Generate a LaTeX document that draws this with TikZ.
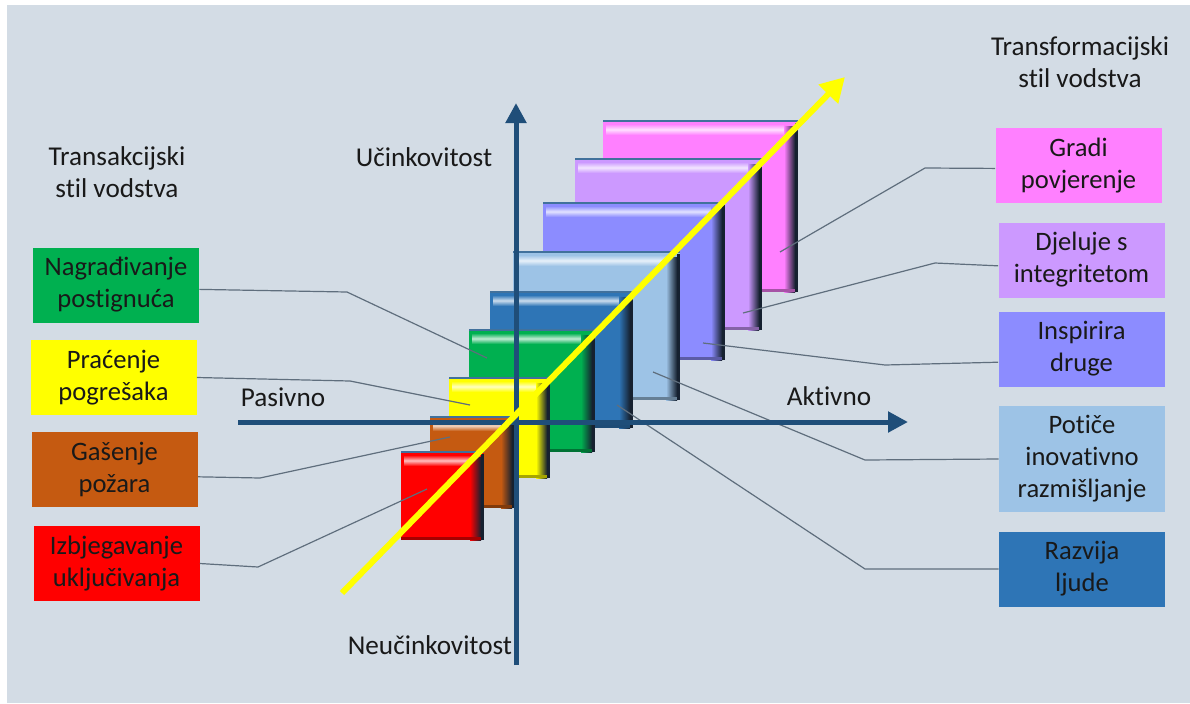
\documentclass[tikz,border=0pt]{standalone}
\usepackage{fontspec}
\setmainfont{Carlito}[Ligatures=NoCommon]
\usepackage{tikz}
\usetikzlibrary{arrows.meta, positioning, calc}
\definecolor{bggray}{RGB}{211,220,229}
\definecolor{axisblue}{RGB}{31,78,121}
\definecolor{leadergray}{RGB}{95,110,125}
\definecolor{edgeblue}{RGB}{65,113,156}
\definecolor{shadowdark}{RGB}{22,33,48}
\definecolor{textgray}{RGB}{25,25,25}
\definecolor{mypink}{RGB}{255,128,255}
\definecolor{mylilac}{RGB}{204,153,255}
\definecolor{myviolet}{RGB}{140,140,255}
\definecolor{mypaleblue}{RGB}{157,195,230}
\definecolor{mymidblue}{RGB}{46,117,182}
\definecolor{mygreen}{RGB}{0,176,80}
\definecolor{myyellow}{RGB}{255,255,0}
\definecolor{myorange}{RGB}{197,90,17}
\definecolor{myred}{RGB}{255,0,0}

\begin{document}
\begin{tikzpicture}[x=0.5pt,y=-0.5pt,
    txt/.style={text=textgray,font=\fontsize{13.6}{15.8}\selectfont,align=center,inner sep=0pt},
    label/.style={txt,font=\fontsize{13.3}{16}\selectfont,minimum width=83pt,minimum height=37.5pt},
    leader/.style={leadergray,line width=0.6pt},
    axis/.style={axisblue,line width=2.5pt,-{Triangle[length=10pt,width=10pt]}}]
    % Background
    \useasboundingbox (0,0) rectangle (1190,703);
    \fill[white] (0,0) rectangle (1190,703);
    \fill[bggray] (7,5) rectangle (1190,703);

    % Titles
    \node[txt] (transak) at (117,172) {Transakcijski\\stil vodstva};
    \node[txt] (transform) at (1080,62) {Transformacijski\\stil vodstva};

    % Stacked blocks, back to front
    \foreach \xa/\ya/\xb/\yb/\col in {603/121/798/292/mypink, 575/159/762/330/mylilac,
        543/203/725/360/myviolet, 513/252/680/400/mypaleblue, 490/292/633/428/mymidblue,
        469/330/595/452/mygreen, 449/378/550/478/myyellow, 430/417/515/508/myorange,
        401/452/484/540/myred} {
        \fill[\col] (\xa,\ya) rectangle (\xb,\yb);
        \shade[top color=\col, bottom color=\col, middle color=white!75!\col] ({\xa+3},{\ya+3}) rectangle ({\xb-14},{\ya+14});
        \shade[left color=\col, right color=shadowdark] ({\xb-14},{\ya+5}) rectangle ({\xb-3},\yb);
        \fill[shadowdark] ({\xb-3},{\ya+2}) rectangle (\xb,\yb);
        \fill[\col!65!black] (\xa,{\yb-3}) rectangle ({\xb-3},\yb);
        \draw[edgeblue,line width=1.2pt] (\xa,\ya) -- (\xb,\ya);
    }

    % Points on the blocks
    \coordinate (cpink) at (780,252);
    \coordinate (clilac) at (743,313);
    \coordinate (cviolet) at (703,343);
    \coordinate (cpale) at (653,372);
    \coordinate (cmid) at (617,405);
    \coordinate (cgreen) at (487,358);
    \coordinate (cyellow) at (470,405);
    \coordinate (corange) at (450,437);
    \coordinate (cred) at (427,489);

    % Left labels
    \node[label,fill=mygreen] (lgreen) at (116,285) {Nagrađivanje\\postignuća};
    \node[label,fill=myyellow] (lyellow) at (113.5,377.5) {Praćenje\\pogrešaka};
    \node[label,fill=myorange] (lorange) at (114.5,469.5) {Gašenje\\požara};
    \node[label,fill=myred] (lred) at (116.5,563.5) {Izbjegavanje\\uključivanja};

    % Right labels
    \node[label,fill=mypink] (lpink) at (1078.5,165.5) {Gradi\\povjerenje};
    \node[label,fill=mylilac] (llilac) at (1081.5,260) {Djeluje s\\integritetom};
    \node[label,fill=myviolet] (lviolet) at (1081.5,349) {Inspirira\\druge};
    \node[label,fill=mypaleblue,minimum height=53pt] (lpale) at (1082,459) {Potiče\\inovativno\\razmišljanje};
    \node[label,fill=mymidblue] (lmid) at (1082,569) {Razvija\\ljude};

    % Leader lines
    \draw[leader] (lgreen.-3) -- (347,292) -- (cgreen);
    \draw[leader] (lyellow.east) -- (350,381) -- (cyellow);
    \draw[leader] (lorange.-5) -- (260,478) -- (corange);
    \draw[leader] (lred.east) -- (258,567) -- (cred);
    \draw[leader] (lpink.182) -- (925,168) -- (cpink);
    \draw[leader] (llilac.184) -- (935,263) -- (clilac);
    \draw[leader] (lviolet.189) -- (885,365) -- (cviolet);
    \draw[leader] (lpale.west) -- (865,460) -- (cpale);
    \draw[leader] (lmid.west) -- (865,569) -- (cmid);

    % Axes
    \coordinate (xleft) at (238,422);
    \coordinate (xright) at (908,422);
    \coordinate (ybottom) at (516,665);
    \coordinate (ytop) at (516,103);
    \draw[axis] (xleft) -- (xright);
    \draw[axis] (ybottom) -- (ytop);
    \node[txt] (ucin) at (424,157) {Učinkovitost};
    \node[txt] (neucin) at (430,645) {Neučinkovitost};
    \node[txt] (pasivno) at (283,397) {Pasivno};
    \node[txt] (aktivno) at (829,396) {Aktivno};

    % Yellow trend arrow
    \coordinate (trendstart) at (342,593);
    \coordinate (trendend) at (845,77);
    \draw[myyellow,line width=3pt,-{Triangle[length=12pt,width=13pt]}] (trendstart) -- (trendend);
\end{tikzpicture}
\end{document}
